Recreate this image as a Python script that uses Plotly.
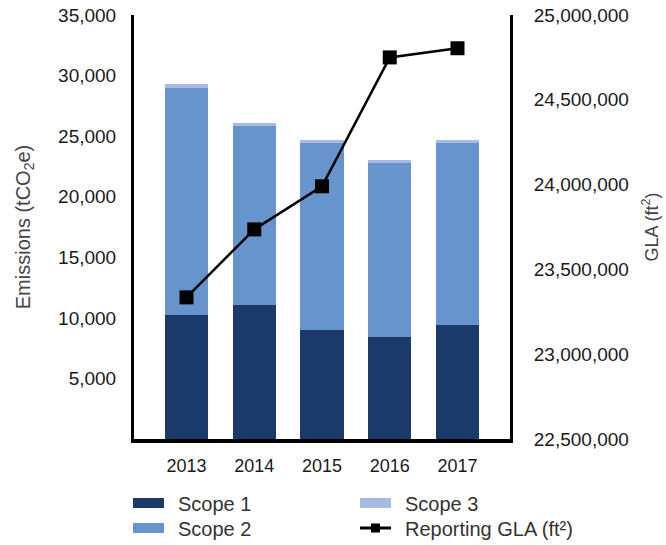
import plotly.graph_objects as go

# Emissions by scope (tCO2e) and reporting gross lettable area (ft²)
years = ["2013", "2014", "2015", "2016", "2017"]
scope1 = [10260, 11090, 9000, 8420, 9410]
scope2 = [18720, 14750, 15440, 14390, 15020]
scope3 = [300, 250, 250, 220, 250]
gla = [23335000, 23736000, 23990000, 24750000, 24804000]

emission_ticks = [5000, 10000, 15000, 20000, 25000, 30000, 35000]
gla_ticks = [22500000, 23000000, 23500000, 24000000, 24500000, 25000000]

C1 = "#1c3a69"
C2 = "#6894cd"
C3 = "#a7bbe2"
FONT = "Liberation Sans, Arial, sans-serif"

W, H = 666, 545
ML, MR, MT, MB = 134, 156, 15, 106
PW, PH = W - ML - MR, H - MT - MB


def px(x):
    return (x - ML) / PW


def py(y):
    return (H - MB - y) / PH


fig = go.Figure()
fig.add_trace(go.Bar(x=years, y=scope1, name="Scope 1", marker=dict(color=C1, line_width=0), width=0.635))
fig.add_trace(go.Bar(x=years, y=scope2, name="Scope 2", marker=dict(color=C2, line_width=0), width=0.635))
fig.add_trace(go.Bar(x=years, y=scope3, name="Scope 3", marker=dict(color=C3, line_width=0), width=0.635))
fig.add_trace(go.Scatter(
    x=years, y=gla, name="Reporting GLA (ft²)", yaxis="y2",
    mode="lines+markers",
    line=dict(color="black", width=2.5),
    marker=dict(symbol="square", size=14, color="black"),
))

fig.update_layout(
    width=W, height=H,
    margin=dict(l=ML, r=MR, t=MT, b=MB, autoexpand=False),
    barmode="stack",
    showlegend=False,
    plot_bgcolor="white",
    paper_bgcolor="white",
    font=dict(family=FONT, size=18, color="#1a1a1a"),
    xaxis=dict(
        type="category", range=[-0.775, 4.775], automargin=False,
        showline=True, linewidth=4, linecolor="black",
        showgrid=False, ticks="", ticklabelstandoff=7,
        tickfont=dict(size=18, color="#1a1a1a"),
    ),
    yaxis=dict(
        range=[0, 35000], tickvals=emission_ticks, tickformat=",", automargin=False,
        showline=True, linewidth=3, linecolor="black",
        showgrid=False, zeroline=False, ticks="", ticklabelstandoff=11,
        tickfont=dict(size=19, color="#1a1a1a"),
        title=dict(text="Emissions (tCO<sub>2</sub>e)", standoff=23,
                   font=dict(size=20, color="#444444")),
    ),
    yaxis2=dict(
        range=[22500000, 25000000], tickvals=gla_ticks, tickformat=",", automargin=False,
        overlaying="y", side="right",
        showline=True, linewidth=3, linecolor="black",
        showgrid=False, zeroline=False, ticks="", ticklabelstandoff=17,
        tickfont=dict(size=19, color="#1a1a1a"),
        title=dict(text="GLA (ft<sup>2</sup>)", standoff=18,
                   font=dict(size=18, color="#444444")),
    ),
)

# Legend drawn as swatches plus text in two columns
legend_items = [
    ("Scope 1", C1, "bar", 133, 503),
    ("Scope 2", C2, "bar", 133, 528),
    ("Scope 3", C3, "bar", 360, 503),
    ("Reporting GLA (ft²)", "black", "line", 360, 528),
]
shapes = []
annotations = []
for label, color, kind, x0, yc in legend_items:
    if kind == "bar":
        shapes.append(dict(type="rect", xref="paper", yref="paper",
                           x0=px(x0), x1=px(x0 + 31), y0=py(yc - 5), y1=py(yc + 5),
                           fillcolor=color, line_width=0))
    else:
        shapes.append(dict(type="line", xref="paper", yref="paper",
                           x0=px(x0), x1=px(x0 + 31), y0=py(yc), y1=py(yc),
                           line=dict(color=color, width=3)))
        shapes.append(dict(type="rect", xref="paper", yref="paper",
                           x0=px(x0 + 11), x1=px(x0 + 20), y0=py(yc - 4.5), y1=py(yc + 4.5),
                           fillcolor=color, line_width=0))
    annotations.append(dict(text=label, xref="paper", yref="paper",
                            x=px(x0 + 43), y=py(yc + 1), xanchor="left", yanchor="middle",
                            showarrow=False, font=dict(size=20, color="#333333")))

fig.update_layout(shapes=shapes, annotations=annotations)

fig.write_html("out.html")
